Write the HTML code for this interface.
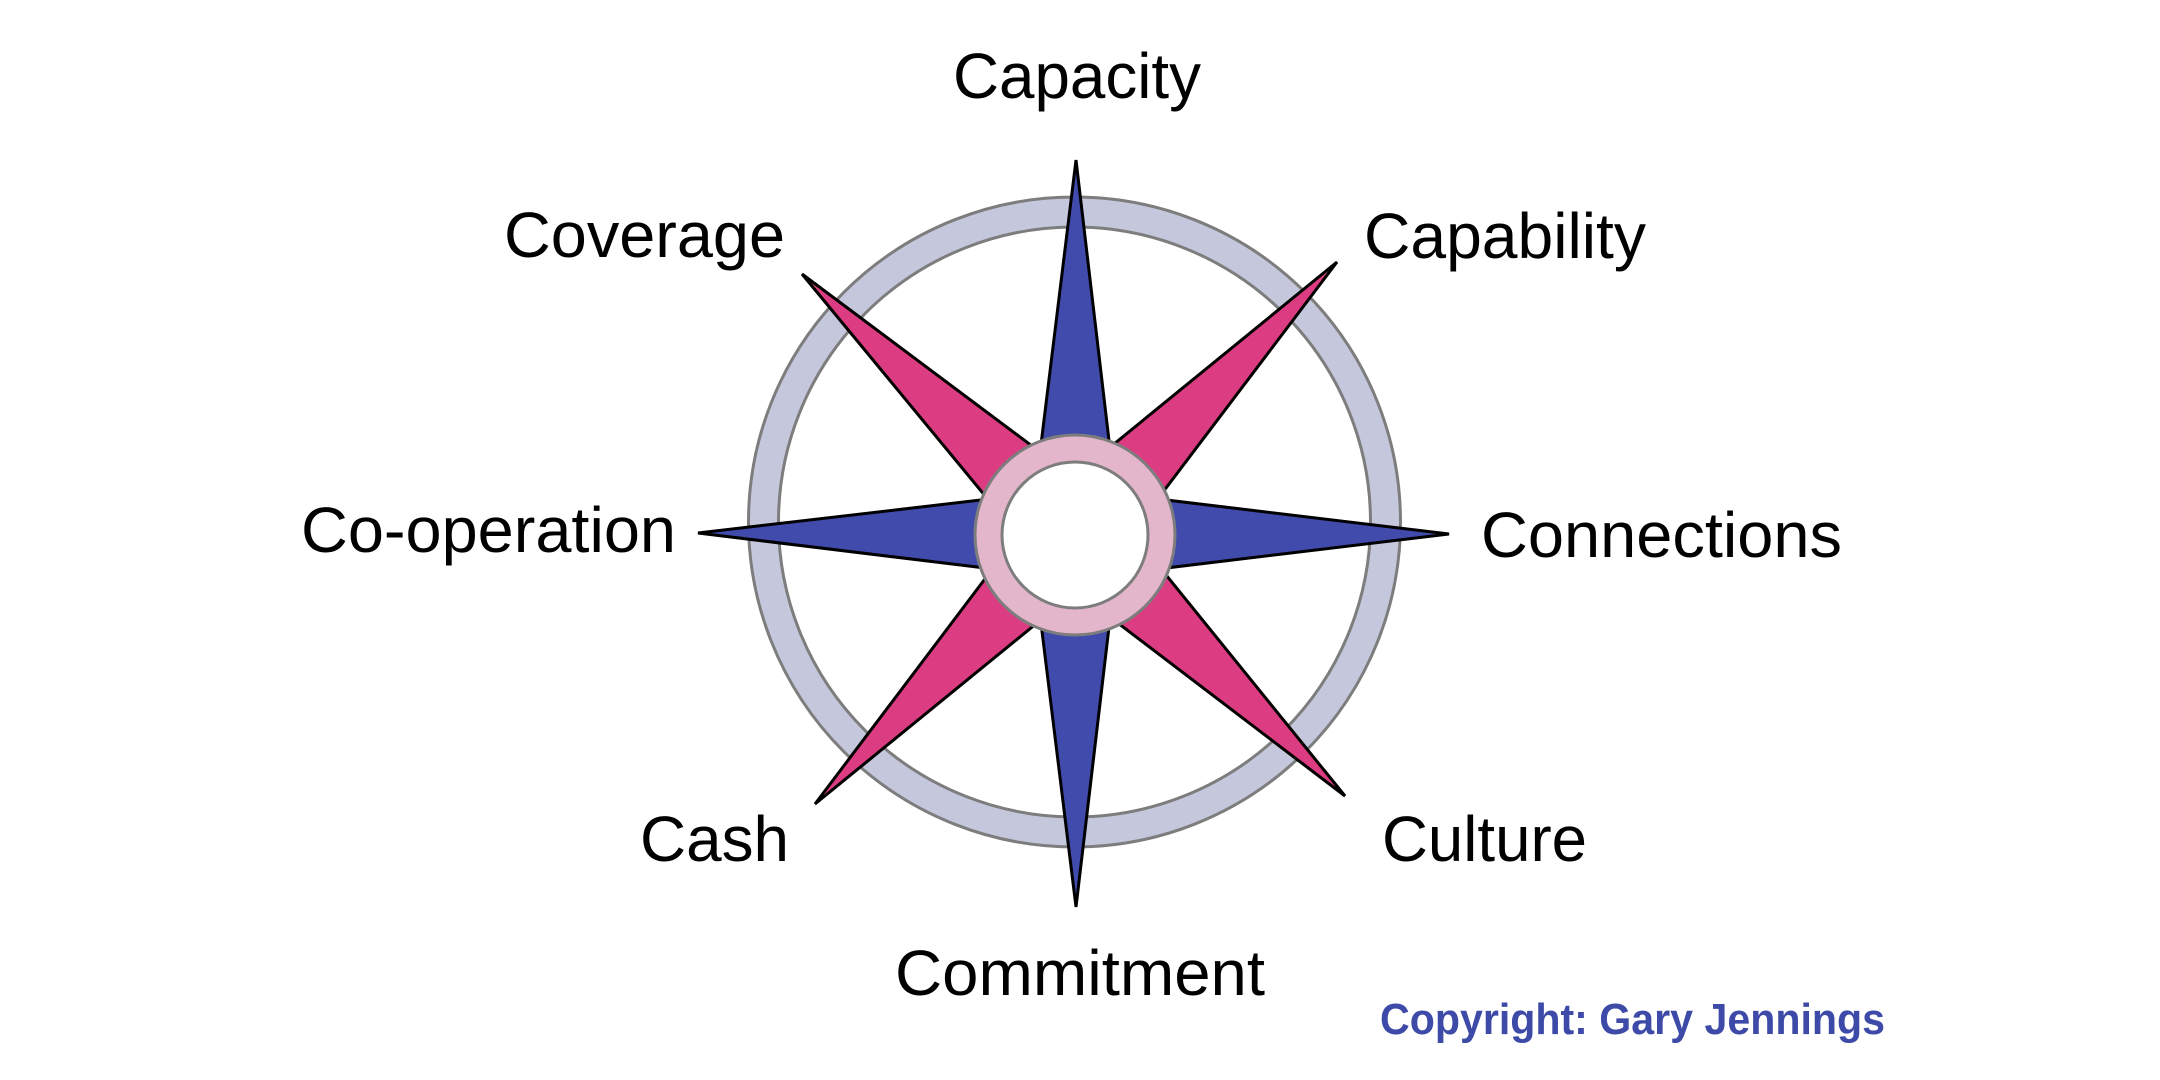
<!DOCTYPE html>
<html><head><meta charset="utf-8"><style>
html,body{margin:0;padding:0;background:#fff;}
svg{display:block;}
text{font-family:"Liberation Sans",Arial,sans-serif;fill:#000;}
</style></head><body>
<svg width="2160" height="1080" viewBox="0 0 2160 1080" xmlns="http://www.w3.org/2000/svg">
<rect width="2160" height="1080" fill="#fff"/>
<!-- outer ring -->
<ellipse cx="1074.5" cy="522" rx="311" ry="310" fill="none" stroke="#c5c8dc" stroke-width="30"/>
<ellipse cx="1074.5" cy="522" rx="326" ry="325" fill="none" stroke="#7d7d7d" stroke-width="3"/>
<ellipse cx="1074.5" cy="522" rx="296" ry="295" fill="none" stroke="#7d7d7d" stroke-width="3"/>
<!-- pink diagonals -->
<g fill="#dc3d82" stroke="#000" stroke-width="3" stroke-linejoin="miter">
<polygon points="802,274 1043,566 1107,502"/>
<polygon points="1337,262 1043,502 1107,566"/>
<polygon points="815,804 1043,502 1107,566"/>
<polygon points="1345,796 1043,566 1107,502"/>
</g>
<!-- blue cardinals -->
<g fill="#414bab" stroke="#000" stroke-width="3">
<polygon points="1076,160 1030,534 1120,534"/>
<polygon points="1076,907 1030,534 1120,534"/>
<polygon points="698,533 1075,489 1075,579"/>
<polygon points="1449,534 1075,489 1075,579"/>
</g>
<!-- inner ring -->
<circle cx="1075" cy="535" r="86.5" fill="#fff" stroke="#e4b6cc" stroke-width="27"/>
<circle cx="1075" cy="535" r="100" fill="none" stroke="#7d7d7d" stroke-width="3"/>
<circle cx="1075" cy="535" r="73" fill="none" stroke="#7d7d7d" stroke-width="3"/>
<!-- labels -->
<g font-size="64">
<text x="953" y="98" textLength="248" lengthAdjust="spacingAndGlyphs">Capacity</text>
<text x="504" y="257" textLength="281" lengthAdjust="spacingAndGlyphs">Coverage</text>
<text x="1364" y="258" textLength="282" lengthAdjust="spacingAndGlyphs">Capability</text>
<text x="301" y="552" textLength="375" lengthAdjust="spacingAndGlyphs">Co-operation</text>
<text x="1481" y="557" textLength="361" lengthAdjust="spacingAndGlyphs">Connections</text>
<text x="640" y="861" textLength="149" lengthAdjust="spacingAndGlyphs">Cash</text>
<text x="1382" y="861" textLength="205" lengthAdjust="spacingAndGlyphs">Culture</text>
<text x="895" y="995" textLength="370" lengthAdjust="spacingAndGlyphs">Commitment</text>
</g>
<text x="1380" y="1034" font-size="44" font-weight="bold" style="fill:#3d4aa8" textLength="505" lengthAdjust="spacingAndGlyphs">Copyright: Gary Jennings</text>
</svg>
</body></html>
